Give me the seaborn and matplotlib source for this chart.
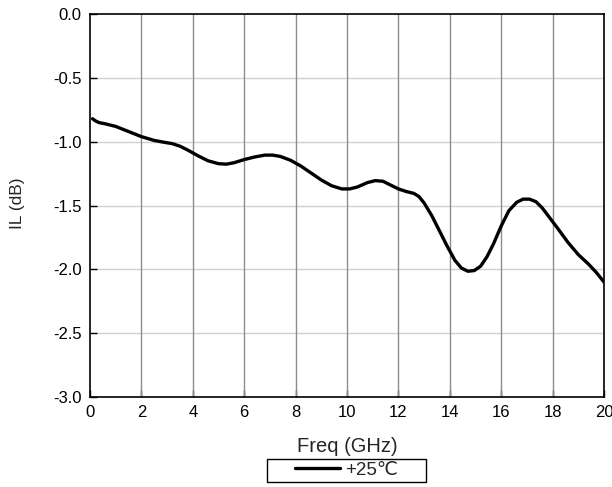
import numpy as np
import pandas as pd
import seaborn as sns
import matplotlib
matplotlib.use("Agg")
import matplotlib.pyplot as plt
from matplotlib.patches import Rectangle

# Insertion loss vs frequency at room temperature
freq_ghz = [0.1, 0.2, 0.35, 0.6, 1.0, 1.5, 2.0, 2.5, 2.9, 3.2, 3.5, 3.8, 4.2, 4.6,
            5.0, 5.3, 5.6, 6.0, 6.4, 6.8, 7.1, 7.4, 7.8, 8.2, 8.6, 9.0, 9.4,
            9.8, 10.1, 10.4, 10.8, 11.1, 11.4, 11.7, 12.0, 12.3, 12.6, 12.8,
            13.0, 13.3, 13.6, 13.9, 14.2, 14.45, 14.7, 14.95, 15.2, 15.45,
            15.7, 16.0, 16.3, 16.6, 16.85, 17.1, 17.35, 17.6, 17.9, 18.2,
            18.6, 19.0, 19.4, 19.7, 20.0]
il_db = [-0.82, -0.835, -0.85, -0.86, -0.88, -0.92, -0.96, -0.99, -1.005, -1.015,
         -1.035, -1.065, -1.11, -1.15, -1.172, -1.176, -1.165, -1.14, -1.12,
         -1.105, -1.105, -1.115, -1.145, -1.19, -1.245, -1.30, -1.345, -1.37,
         -1.37, -1.355, -1.32, -1.305, -1.31, -1.34, -1.37, -1.39, -1.405,
         -1.43, -1.48, -1.58, -1.70, -1.82, -1.93, -1.99, -2.015, -2.01, -1.975,
         -1.90, -1.80, -1.66, -1.54, -1.475, -1.45, -1.45, -1.47, -1.52, -1.60,
         -1.68, -1.79, -1.885, -1.96, -2.025, -2.10]
series_label = "+25\u2103"

x_ticks = [0, 2, 4, 6, 8, 10, 12, 14, 16, 18, 20]
y_ticks = [0.0, -0.5, -1.0, -1.5, -2.0, -2.5, -3.0]

sns.set_theme(style="white")
plt.rcParams["font.family"] = ["Liberation Sans", "DejaVu Sans"]

df = pd.DataFrame({"Freq": freq_ghz, "IL": il_db, "series": series_label})

fig = plt.figure(figsize=(6.12, 4.87), dpi=100)
ax = fig.add_axes([0.147, 0.185, 0.840, 0.786])

for x in x_ticks[1:-1]:
    ax.axvline(x, color="#8c8c8c", lw=1.0, zorder=1)
for y in y_ticks[1:-1]:
    ax.axhline(y, color="#d0d0d0", lw=1.0, zorder=0.5)

sns.lineplot(data=df, x="Freq", y="IL", hue="series", palette=["black"],
             lw=2.4, ax=ax, zorder=3)
ax.get_lines()[-1].set_solid_joinstyle("round")

ax.set_xlim(0, 20)
ax.set_ylim(-3.0, 0.0)
ax.set_xticks(x_ticks)
ax.set_yticks(y_ticks)
ax.set_xticklabels([str(v) for v in x_ticks])
ax.set_yticklabels([f"{v:.1f}" for v in y_ticks])
ax.tick_params(direction="in", length=5, width=1, colors="black",
               labelsize=12, pad=6, bottom=True, left=True)
for s in ax.spines.values():
    s.set_color("black")
    s.set_linewidth(1.2)

ax.set_xlabel("Freq (GHz)", fontsize=14.5)
ax.set_ylabel("IL (dB)", fontsize=12.5)
ax.xaxis.set_label_coords(0.5, -0.105)
ax.yaxis.set_label_coords(-0.126, 0.505)

# legend below the axis label, inside a plain rectangular box
leg = fig.legend(loc="center", bbox_to_anchor=(0.566, 0.034), frameon=False,
                 fontsize=13.5, handlelength=2.4, handletextpad=0.3,
                 borderpad=0, borderaxespad=0)
ax.get_legend().remove()
fig.patches.append(Rectangle((267 / 612, 1 - 482 / 487), 159 / 612, 23 / 487,
                             transform=fig.transFigure, fill=False,
                             edgecolor="black", lw=1.0))

fig.savefig("out.png", dpi=100)
